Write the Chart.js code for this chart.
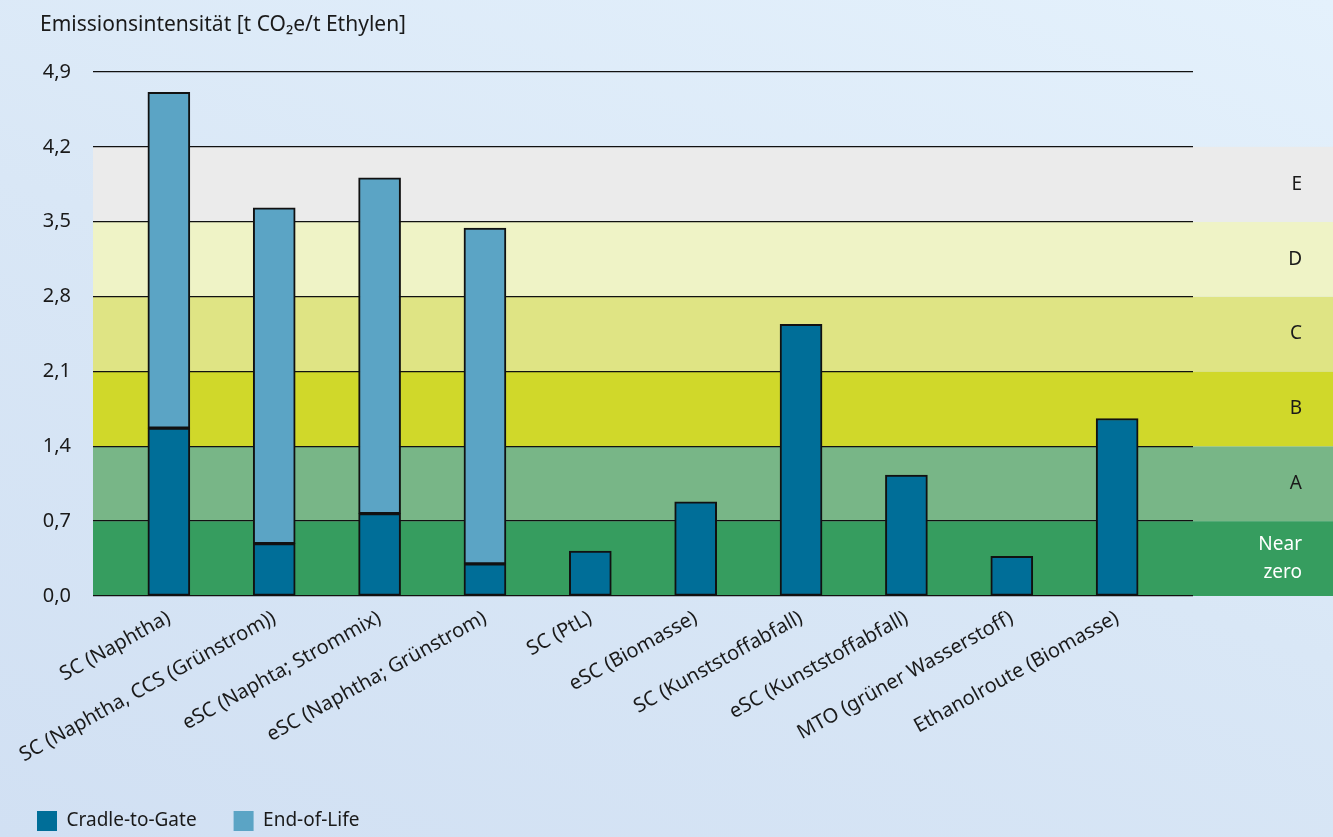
<!DOCTYPE html>
<html>
<head>
<meta charset="utf-8">
<script src="https://cdn.jsdelivr.net/npm/chart.js@4"></script>
<style>
  html, body { margin: 0; padding: 0; }
  body {
    width: 1333px; height: 837px; overflow: hidden;
    background: linear-gradient(20deg, #d1e0f3 0%, #d9e7f6 50%, #e4f1fc 100%);
  }
  canvas { display: block; }
</style>
</head>
<body>
<canvas id="chart" width="1333" height="837"></canvas>
<script>
// categories and values
var routes = ['SC (Naphtha)', 'SC (Naphtha, CCS (Grünstrom))', 'eSC (Naphta; Strommix)',
  'eSC (Naphtha; Grünstrom)', 'SC (PtL)', 'eSC (Biomasse)', 'SC (Kunststoffabfall)',
  'eSC (Kunststoffabfall)', 'MTO (grüner Wasserstoff)', 'Ethanolroute (Biomasse)'];
var cradleToGate = [1.57, 0.49, 0.77, 0.30, 0.42, 0.88, 2.54, 1.13, 0.37, 1.66];
var endOfLife = [3.14, 3.14, 3.14, 3.14, 0, 0, 0, 0, 0, 0];
var yTicks = [0, 0.7, 1.4, 2.1, 2.8, 3.5, 4.2, 4.9];
var yTitle = 'Emissionsintensität [t CO₂e/t Ethylen]';

// classes (bands)
var bandNames = ['Near zero', 'A', 'B', 'C', 'D', 'E'];
var bandFrom = [0, 0.7, 1.4, 2.1, 2.8, 3.5];
var bandTo = [0.7, 1.4, 2.1, 2.8, 3.5, 4.2];
var bandColors = ['#369d5f', '#78b687', '#d0d82a', '#dfe484', '#eff3c6', '#ebebeb'];

var fontName = '"Noto Sans", "Open Sans", sans-serif';
var textColor = '#1a1a1a';

var bandsPlugin = {
  id: 'bands',
  beforeDraw: function (chart) {
    var c = chart.ctx, y = chart.scales.y, area = chart.chartArea;
    c.save();
    for (var i = 0; i < bandNames.length; i++) {
      var top = y.getPixelForValue(bandTo[i]);
      var bot = y.getPixelForValue(bandFrom[i]);
      c.fillStyle = bandColors[i];
      c.fillRect(area.left, top, chart.width - area.left, bot - top);
      c.fillStyle = i == 0 ? '#ffffff' : textColor;
      c.font = '19px ' + fontName;
      c.textAlign = 'right';
      c.textBaseline = 'middle';
      var mid = (top + bot) / 2;
      var lines = bandNames[i].split(' ');
      for (var k = 0; k < lines.length; k++) {
        c.fillText(lines[k], area.right + 109, mid + (k - (lines.length - 1) / 2) * 28);
      }
    }
    // axis title at top left
    c.fillStyle = textColor;
    c.font = '21px ' + fontName;
    c.textAlign = 'left';
    c.textBaseline = 'middle';
    c.fillText(yTitle, 40, 25);
    c.restore();
  }
};

var ctx = document.getElementById('chart').getContext('2d');
var chart = new Chart(ctx, {
  type: 'bar',
  data: {
    datasets: [{
      label: 'Cradle-to-Gate',
      backgroundColor: '#006e98',
      borderColor: '#111',
      borderWidth: 2,
      borderSkipped: false,
      barThickness: 42,
      data: cradleToGate.map(function (v, i) { return { x: i, y: v }; })
    }, {
      label: 'End-of-Life',
      backgroundColor: '#5ba4c5',
      borderColor: '#111',
      borderWidth: 2,
      borderSkipped: false,
      barThickness: 42,
      data: endOfLife.map(function (v, i) { return { x: i, y: v }; })
    }]
  },
  options: {
    responsive: false,
    animation: false,
    layout: { padding: { left: 0, right: 140, top: 72, bottom: -4 } },
    plugins: {
      legend: {
        position: 'bottom',
        align: 'start',
        labels: {
          color: textColor,
          font: { family: fontName, size: 19 },
          boxWidth: 20,
          boxHeight: 20,
          padding: 37,
          generateLabels: function (ch) {
            return ch.data.datasets.map(function (d, i) {
              return { text: d.label, fillStyle: d.backgroundColor, strokeStyle: d.backgroundColor, lineWidth: 0, datasetIndex: i, fontColor: textColor };
            });
          }
        }
      },
      tooltip: { enabled: false }
    },
    scales: {
      x: {
        type: 'linear',
        stacked: true,
        offset: false,
        min: -0.72,
        max: 9.72,
        grid: { display: false },
        border: { display: false },
        afterBuildTicks: function (scale) {
          scale.ticks = routes.map(function (_, i) { return { value: i }; });
        },
        afterFit: function (scale) { scale.height = 178; },
        ticks: {
          autoSkip: false,
          minRotation: 29,
          maxRotation: 29,
          padding: 2,
          color: textColor,
          font: { family: fontName, size: 20 },
          callback: function (v) { return routes[v]; }
        }
      },
      y: {
        stacked: true,
        min: 0,
        max: 4.9,
        afterBuildTicks: function (scale) {
          scale.ticks = yTicks.map(function (v) { return { value: v }; });
        },
        afterFit: function (scale) { scale.width = 93; },
        grid: { color: '#111', lineWidth: 1.3, drawTicks: false },
        border: { display: false },
        ticks: {
          padding: 22,
          color: textColor,
          font: { family: fontName, size: 20 },
          callback: function (v) { return v.toFixed(1).replace('.', ','); }
        }
      }
    }
  },
  plugins: [bandsPlugin]
});
</script>
</body>
</html>
